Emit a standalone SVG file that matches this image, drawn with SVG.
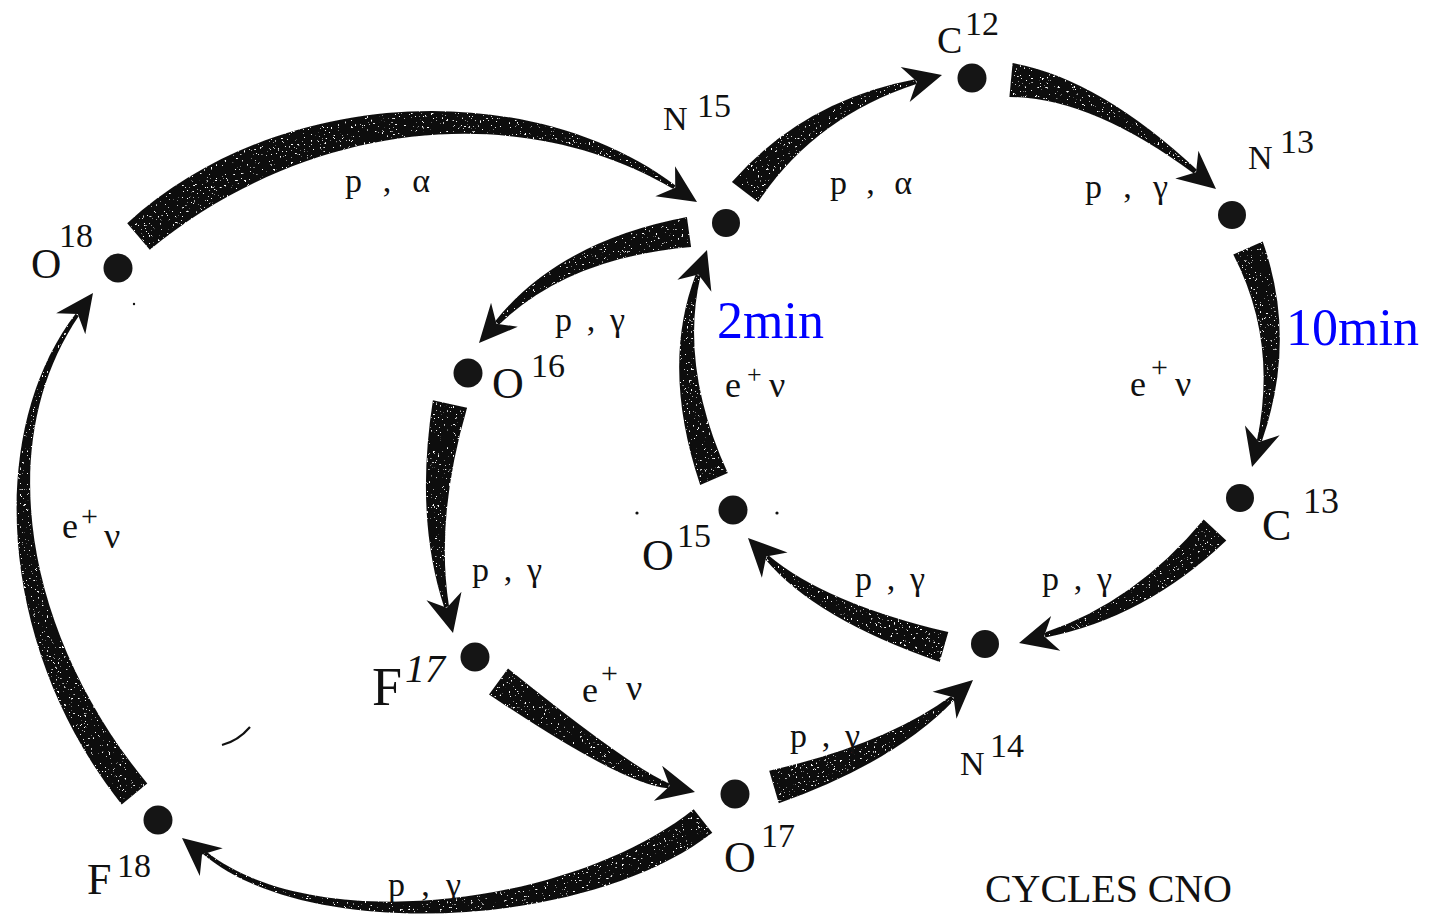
<svg xmlns="http://www.w3.org/2000/svg" width="1437" height="918" viewBox="0 0 1437 918">
<style>
text{font-family:"Liberation Serif","Times New Roman",serif;fill:#111}
.el{font-size:38px}
.ms{font-size:34px}
.rx{font-size:34px}
.ev{font-size:36px}
.sup{font-size:30px}
.blue{font-size:52px;fill:#0000ff}
.band{fill:#111;filter:url(#grain)}
.dot{fill:#151515}
</style>
<defs>
<path id="ah" d="M0,0 L-38,-18 L-26,0 L-38,18 Z" fill="#111"/>
<filter id="grain" x="-5%" y="-5%" width="110%" height="110%">
<feTurbulence type="fractalNoise" baseFrequency="0.45" numOctaves="2" seed="7" result="n"/>
<feColorMatrix in="n" type="matrix" values="0 0 0 0 1  0 0 0 0 1  0 0 0 0 1  14 0 0 0 -9.6" result="w"/>
<feComposite in="w" in2="SourceGraphic" operator="in" result="ws"/>
<feMerge><feMergeNode in="SourceGraphic"/><feMergeNode in="ws"/></feMerge>
</filter>
</defs>
<rect width="1437" height="918" fill="#fff"/>
<g id="connectors">
<g id="c12-n13"><path class="band" d="M1009.4,96.9 Q1091.1,97.4 1193.7,173.6 L1196.9,169.8 Q1098.9,78.6 1012.6,63.1 Z"/><use href="#ah" transform="translate(1216,189) rotate(39.9)"/></g>
<g id="n13-c13"><path class="band" d="M1233.3,254.4 Q1277.9,340.6 1256.9,440.4 L1261.7,441.8 Q1297.5,339.2 1262.7,241.6 Z"/><use href="#ah" transform="translate(1252,467) rotate(105.7)"/></g>
<g id="c13-n14"><path class="band" d="M1203.7,519.4 Q1135.2,601.9 1044.2,632.7 L1045.4,637.5 Q1144.8,618.1 1226.3,540.6 Z"/><use href="#ah" transform="translate(1019,643) rotate(165.2)"/></g>
<g id="n14-o15"><path class="band" d="M948.3,632.1 Q824.5,602.7 768.7,555.4 L765.1,559.0 Q814.9,618.7 939.7,661.9 Z"/><use href="#ah" transform="translate(748,538) rotate(-134.6)"/></g>
<g id="o15-n15"><path class="band" d="M727.8,473.1 Q679.3,366.6 700.5,276.2 L695.7,274.6 Q660.5,367.2 700.2,484.9 Z"/><use href="#ah" transform="translate(707,250) rotate(-70.6)"/></g>
<g id="n15-o16"><path class="band" d="M686.9,217.1 Q558.5,241.6 495.2,321.3 L499.0,324.7 Q567.3,258.0 691.1,246.9 Z"/><use href="#ah" transform="translate(479,343) rotate(132)"/></g>
<g id="o16-f17"><path class="band" d="M432.9,400.2 Q414.6,517.4 444.2,607.4 L449.0,606.2 Q435.1,517.2 467.1,407.8 Z"/><use href="#ah" transform="translate(453,633) rotate(76.3)"/></g>
<g id="f17-o17"><path class="band" d="M489,694.4 Q622.4,784.6 668.1,788.3 L669.3,783.5 Q630.4,767.4 508,668.6 Z"/><use href="#ah" transform="translate(695,792) rotate(13.2)"/></g>
<g id="o17-n14"><path class="band" d="M778.8,803.3 Q895.4,761.8 954.5,699.8 L951.1,696.0 Q885.8,744.2 769.2,770.7 Z"/><use href="#ah" transform="translate(973,680) rotate(-41.5)"/></g>
<g id="o17-f18"><path class="band" d="M693.7,809.2 C571.3,907 312.5,936.9 205.9,851.3 L203.3,854.3 C307.5,943.1 588.7,929 712.3,832.8 Z"/><use href="#ah" transform="translate(182,838) rotate(-140.4)"/></g>
<g id="f18-o18"><path class="band" d="M147.3,783.6 C21.7,630.6 -5.8,439.9 78.8,316.1 L75.6,313.7 C-15.6,432.9 -1.7,649.4 121.7,804.4 Z"/><use href="#ah" transform="translate(93,293) rotate(-54.1)"/></g>
<g id="o18-n15"><path class="band" d="M149.8,249.8 C303.7,122.1 518.4,97.0 673.3,188.9 L675.5,185.5 C529.4,76.2 277.7,85.7 127.2,223.2 Z"/><use href="#ah" transform="translate(697,202) rotate(33.2)"/></g>
<g id="n15-c12"><path class="band" d="M758.1,202.1 Q814.5,117.4 916.4,84.1 L915.2,79.3 Q803.5,100.6 731.9,181.9 Z"/><use href="#ah" transform="translate(942,75) rotate(-14.4)"/></g>
</g>
<g id="labels">
<text class="rx" x="345" y="192" textLength="85" lengthAdjust="spacing">p , α</text>
<text class="rx" x="830" y="194" textLength="82" lengthAdjust="spacing">p , α</text>
<text class="rx" x="1085" y="198" textLength="83" lengthAdjust="spacing">p , γ</text>
<text class="rx" x="1042" y="590" textLength="70" lengthAdjust="spacing">p , γ</text>
<text class="rx" x="855" y="590" textLength="70" lengthAdjust="spacing">p , γ</text>
<text class="rx" x="555" y="331" textLength="70" lengthAdjust="spacing">p , γ</text>
<text class="rx" x="472" y="581" textLength="70" lengthAdjust="spacing">p , γ</text>
<text class="rx" x="790" y="747" textLength="70" lengthAdjust="spacing">p , γ</text>
<text class="rx" x="388" y="896" textLength="73" lengthAdjust="spacing">p , γ</text>
<text class="ev" x="1130" y="396">e<tspan class="sup" x="1151" y="377">+</tspan><tspan x="1175" y="396">ν</tspan></text>
<text class="ev" x="725" y="397">e<tspan class="sup" x="747" y="383" style="font-size:26px">+</tspan><tspan x="769" y="397">ν</tspan></text>
<text class="ev" x="582" y="702">e<tspan class="sup" x="601" y="683">+</tspan><tspan x="626" y="700">ν</tspan></text>
<text class="ev" x="62" y="538">e<tspan class="sup" x="81" y="526">+</tspan><tspan x="104" y="548">ν</tspan></text>
<text class="blue" x="717" y="338">2min</text>
<text class="blue" x="1286" y="345">10min</text>
<text x="985" y="902" font-size="40" textLength="247" lengthAdjust="spacing">CYCLES CNO</text>
</g>
<g id="C12"><circle class="dot" cx="972" cy="78" r="14.5"/><text class="el" x="937" y="53" font-size="36">C<tspan class="ms" x="965" y="35">12</tspan></text></g>
<g id="N13"><circle class="dot" cx="1232" cy="215" r="14"/><text class="el" x="1248" y="169" style="font-size:34px">N<tspan class="ms" x="1280" y="153">13</tspan></text></g>
<g id="C13"><circle class="dot" cx="1240" cy="498" r="14"/><text class="el" x="1262" y="540" style="font-size:44px">C<tspan class="ms" x="1303" y="513" style="font-size:36px">13</tspan></text></g>
<g id="N14"><circle class="dot" cx="985" cy="644" r="14"/><text class="el" x="960" y="775" style="font-size:34px">N<tspan class="ms" x="990" y="757">14</tspan></text></g>
<g id="O15"><circle class="dot" cx="733" cy="510" r="14.5"/><text class="el" x="642" y="570" style="font-size:44px">O<tspan class="ms" x="677" y="547">15</tspan></text></g>
<g id="N15"><circle class="dot" cx="726" cy="223" r="14"/><text class="el" x="663" y="130" style="font-size:34px">N<tspan class="ms" x="697" y="117">15</tspan></text></g>
<g id="O16"><circle class="dot" cx="468" cy="373" r="14.5"/><text class="el" x="492" y="398" style="font-size:44px">O<tspan class="ms" x="531" y="377">16</tspan></text></g>
<g id="F17"><circle class="dot" cx="475" cy="657" r="14.5"/><text class="el" x="372" y="705" style="font-size:54px">F<tspan x="405" y="682" style="font-size:40px;font-style:italic">17</tspan></text></g>
<g id="O17"><circle class="dot" cx="735" cy="794" r="14.5"/><text class="el" x="724" y="872" style="font-size:44px">O<tspan class="ms" x="761" y="847">17</tspan></text></g>
<g id="F18"><circle class="dot" cx="158" cy="820" r="14.5"/><text class="el" x="87" y="894" style="font-size:44px">F<tspan class="ms" x="117" y="877">18</tspan></text></g>
<g id="O18"><circle class="dot" cx="118" cy="268" r="14.5"/><text class="el" x="31" y="278" style="font-size:42px">O<tspan class="ms" x="59" y="247">18</tspan></text></g>
<g id="specks" fill="#111">
<circle cx="637" cy="513" r="1.6"/><circle cx="777" cy="513" r="1.6"/><circle cx="134" cy="304" r="1.2"/>
<path d="M222,745 Q238,741 250,727" fill="none" stroke="#111" stroke-width="2.2"/>
</g>
</svg>
